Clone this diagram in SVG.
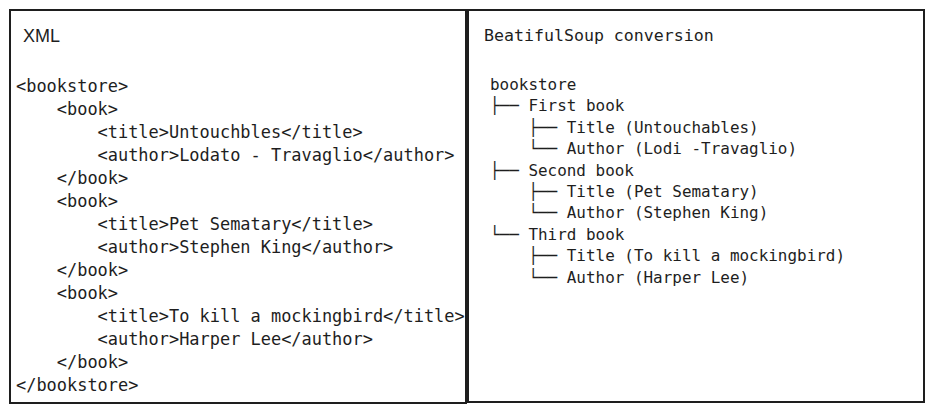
<svg xmlns="http://www.w3.org/2000/svg" width="935" height="413" viewBox="0 0 935 413">
<style>
.box{fill:#ffffff;stroke:#1e1e1e;stroke-width:2}
.code{font-family:"DejaVu Sans Mono","Liberation Mono",monospace;font-size:16.95px;fill:#1e1e1e;white-space:pre}
.tree{font-family:"DejaVu Sans Mono","Liberation Mono",monospace;font-size:15.95px;fill:#1e1e1e;white-space:pre}
.title2{font-family:"DejaVu Sans Mono","Liberation Mono",monospace;font-size:16.6px;fill:#1e1e1e}
.head{font-family:"Liberation Sans","DejaVu Sans",sans-serif;font-size:18px;fill:#1e1e1e}
</style>
<rect width="935" height="413" fill="#ffffff"/>
<g id="xml-panel">
<rect class="box" x="10" y="10" width="456" height="393"/>
<text class="head" x="23" y="42">XML</text>
<text class="code" xml:space="preserve">
<tspan x="16" y="91.5">&lt;bookstore&gt;</tspan>
<tspan x="16" y="114.5">    &lt;book&gt;</tspan>
<tspan x="16" y="137.6">        &lt;title&gt;Untouchbles&lt;/title&gt;</tspan>
<tspan x="16" y="160.6">        &lt;author&gt;Lodato - Travaglio&lt;/author&gt;</tspan>
<tspan x="16" y="183.7">    &lt;/book&gt;</tspan>
<tspan x="16" y="206.7">    &lt;book&gt;</tspan>
<tspan x="16" y="229.8">        &lt;title&gt;Pet Sematary&lt;/title&gt;</tspan>
<tspan x="16" y="252.8">        &lt;author&gt;Stephen King&lt;/author&gt;</tspan>
<tspan x="16" y="275.9">    &lt;/book&gt;</tspan>
<tspan x="16" y="298.9">    &lt;book&gt;</tspan>
<tspan x="16" y="322.0">        &lt;title&gt;To kill a mockingbird&lt;/title&gt;</tspan>
<tspan x="16" y="345.0">        &lt;author&gt;Harper Lee&lt;/author&gt;</tspan>
<tspan x="16" y="368.1">    &lt;/book&gt;</tspan>
<tspan x="16" y="391.1">&lt;/bookstore&gt;</tspan>
</text>
</g>
<g id="soup-panel">
<rect class="box" x="468" y="10" width="456" height="392"/>
<text class="title2" x="484" y="40.5">BeatifulSoup conversion</text>
<text class="tree" xml:space="preserve">
<tspan x="490" y="90">bookstore</tspan>
<tspan x="490" y="111.4">├── First book</tspan>
<tspan x="490" y="132.8">    ├── Title (Untouchables)</tspan>
<tspan x="490" y="154.2">    └── Author (Lodi -Travaglio)</tspan>
<tspan x="490" y="175.6">├── Second book</tspan>
<tspan x="490" y="197.0">    ├── Title (Pet Sematary)</tspan>
<tspan x="490" y="218.4">    └── Author (Stephen King)</tspan>
<tspan x="490" y="239.8">└── Third book</tspan>
<tspan x="490" y="261.2">    ├── Title (To kill a mockingbird)</tspan>
<tspan x="490" y="282.6">    └── Author (Harper Lee)</tspan>
</text>
</g>
<g id="connectors"></g>
</svg>
